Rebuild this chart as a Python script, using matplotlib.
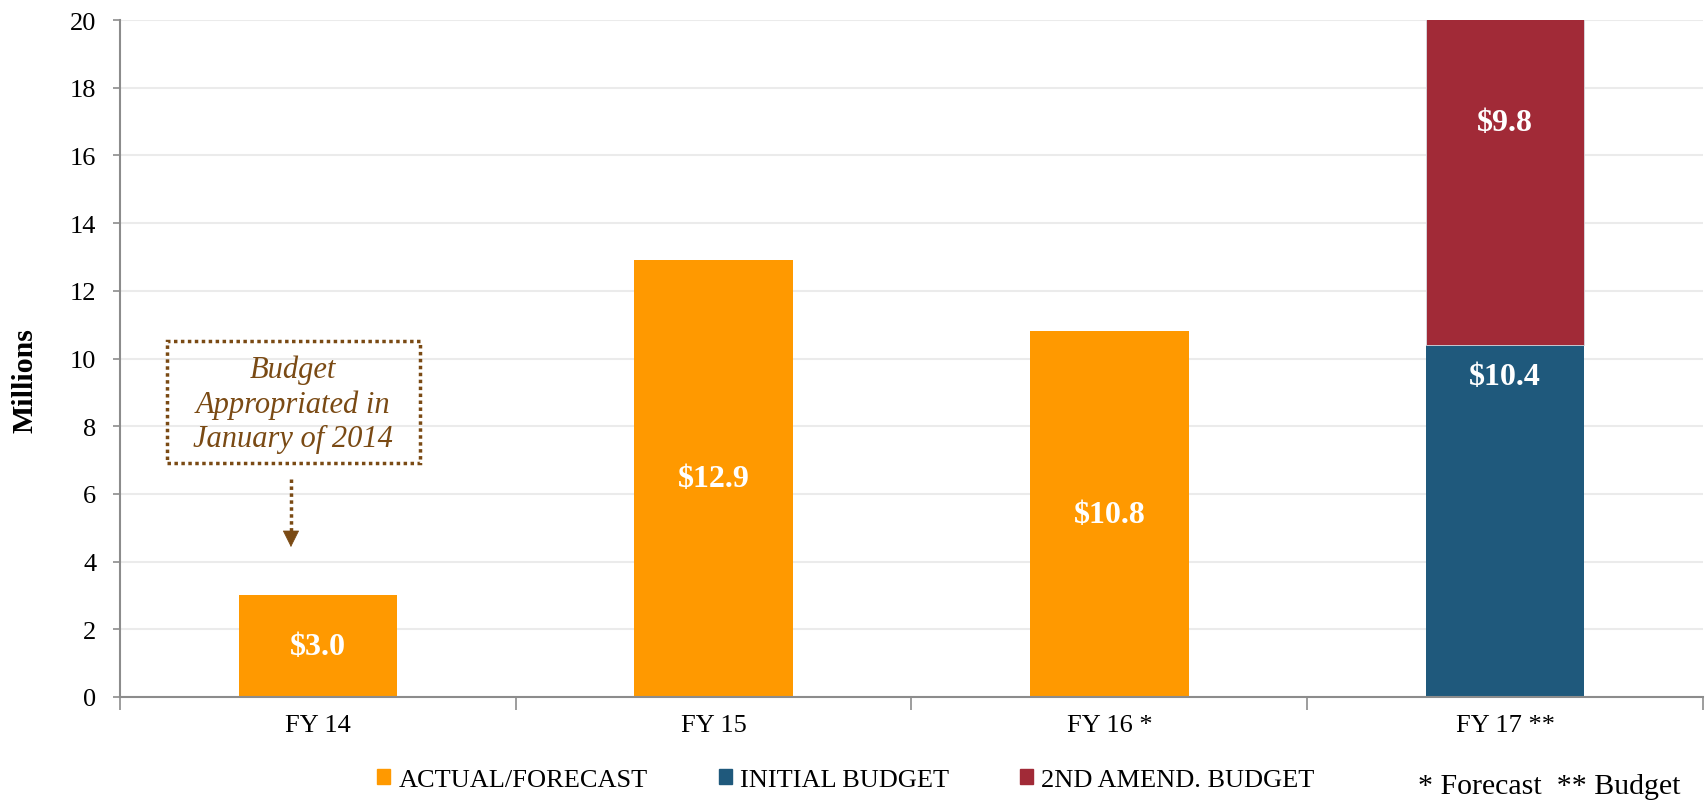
'''
FY budget chart: actual/forecast vs budget
'''

import numpy as np
import matplotlib
matplotlib.use('Agg')
import matplotlib.pyplot as plt
from matplotlib.patches import Patch, Rectangle

plt.rcParams['font.family'] = ['Liberation Serif', 'DejaVu Serif']

# ═══ Data ═════════════════════════════════════════════════════════════

categories = ['FY 14', 'FY 15', 'FY 16 *', 'FY 17 **']
actual = [3.0, 12.9, 10.8, 0.0]
initial_budget = [0.0, 0.0, 0.0, 10.4]
amend_budget = [0.0, 0.0, 0.0, 9.8]

series_names = ['ACTUAL/FORECAST', 'INITIAL BUDGET', '2ND AMEND. BUDGET']
note = '* Forecast  ** Budget'
callout = 'Budget\nAppropriated in\nJanuary of 2014'

c_orange = '#FF9900'
c_blue = '#1F597C'
c_red = '#A12A37'
c_brown = '#7A4A14'

W, H = 1706, 804

# ═══ Figure ═══════════════════════════════════════════════════════════

fig = plt.figure(figsize=(W/100, H/100), dpi=100)
ax = fig.add_axes([120/W, 1 - 698/H, (1703-120)/W, (698-21)/H])

x = np.arange(len(categories))
w = 0.4

ax.bar(x, actual, w, color=c_orange, zorder=2)
ax.bar(x, initial_budget, w, color=c_blue, zorder=2)
ax.bar(x, amend_budget, w, bottom=initial_budget, color=c_red, zorder=2,
       edgecolor='#d8dde3', linewidth=0.6)

ax.set_ylim(0, 20)
ax.set_xlim(-0.5, len(categories) - 0.5)
ax.set_yticks(np.arange(0, 21, 2))
ax.yaxis.grid(True, color='#ebebeb', linewidth=1.5, zorder=0)
ax.set_axisbelow(True)

# category boundaries as major ticks, labels on minor ticks
ax.set_xticks(np.arange(-0.5, len(categories), 1))
ax.set_xticklabels([])
ax.set_xticks(x, minor=True)
ax.set_xticklabels(categories, minor=True, fontsize=19)
ax.tick_params(axis='x', which='minor', length=0, pad=12)
ax.tick_params(axis='x', which='major', length=9, color='#8c8c8c', width=1.2)
ax.tick_params(axis='y', length=5, color='#8c8c8c', width=1.2, labelsize=19, pad=12)

for s in ['top', 'right']:
    ax.spines[s].set_visible(False)
for s in ['left', 'bottom']:
    ax.spines[s].set_color('#8c8c8c')
    ax.spines[s].set_linewidth(1.5)

fig.text(25/W, 1 - 381/H, 'Millions', rotation=90, ha='center', va='center',
         fontsize=21.5, fontweight='bold')

# ─── Data labels
lab = dict(ha='center', va='center', color='white', fontsize=23, fontweight='bold', zorder=3)
for i, v in enumerate(actual):
    if v > 0:
        ax.text(x[i], v / 2, f'${v:.1f}', **lab)
for i, v in enumerate(initial_budget):
    if v > 0:
        ax.text(x[i], v - 0.92, f'${v:.1f}', **lab)
for i, v in enumerate(amend_budget):
    if v > 0:
        ax.text(x[i], initial_budget[i] + v * 0.67, f'${v:.1f}', **lab)

# ─── Callout box and dotted arrow
ax.add_patch(Rectangle((-0.381, 6.91), 0.639, 3.6, fill=False, ec=c_brown, lw=2.5,
                       ls=(0, (1, 1)), zorder=4, clip_on=False))
ax.text(-0.063, 8.66, callout, ha='center', va='center', fontsize=22, style='italic',
        color=c_brown, linespacing=1.22, zorder=4)
ax.plot([-0.068, -0.068], [6.43, 4.9], color=c_brown, lw=2.5, ls=(0, (1, 1)), zorder=4)
ax.annotate('', xy=(-0.068, 4.43), xytext=(-0.068, 4.95),
            arrowprops=dict(arrowstyle='-|>,head_width=0.55,head_length=1.1',
                            color=c_brown, lw=0.5, shrinkA=0, shrinkB=0))

# ─── Legend
handles = [Patch(color=c) for c in [c_orange, c_blue, c_red]]
fig.legend(handles, series_names, loc='center', bbox_to_anchor=(846/W, 1 - 781/H),
           ncol=3, frameon=False, fontsize=19, handlelength=0.5, handleheight=0.5,
           handletextpad=0.3, columnspacing=2.7)
fig.text(1681/W, 1 - 787/H, note, ha='right', va='center', fontsize=21.5)

fig.savefig('out.png', dpi=100)
